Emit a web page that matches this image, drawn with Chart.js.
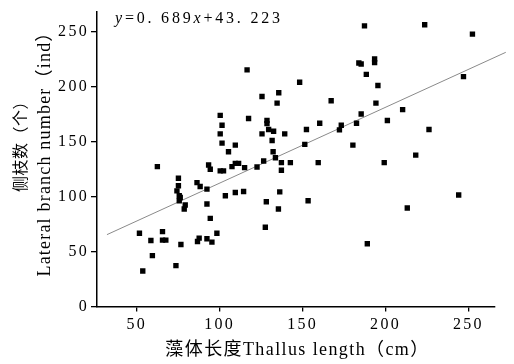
<!DOCTYPE html>
<html><head><meta charset="utf-8">
<script src="https://cdn.jsdelivr.net/npm/chart.js@4/dist/chart.umd.min.js"></script>
<style>html,body{margin:0;padding:0;background:#fff;overflow:hidden}canvas{display:block}</style>
</head><body>
<canvas id="c" width="514" height="364" style="width:514px;height:364px"></canvas>
<script>
// Thallus length (cm) of each sampled plant
const thallusLength = [51.6,53.6,58.5,59.4,65.5,65.5,67.5,73.6,76.6,75.1,75.1,74.2,75.6,76.2,75.6,79.2,78.6,86.3,88.2,92.3,92.3,94.3,86.6,87.6,92.3,95.3,98.3,103.4,109.4,114.4,116.5,117.4,100.3,101.4,100.3,101.4,109.4,105.3,62.4,93.3,94.3,100.3,102.3,107.4,109.4,111.4,115.0,122.5,125.5,125.5,187.3,223.6,252.4,183.9,185.3,193.4,193.4,188.4,195.4,148.2,135.6,134.6,167.2,194.2,210.3,185.3,247.0,128.5,128.5,129.5,132.5,139.2,131.6,152.3,160.3,173.3,172.2,182.5,201.1,226.2,151.3,180.3,132.2,133.6,126.5,137.2,137.2,142.6,159.4,199.2,218.2,136.2,128.1,135.4,127.5,153.3,189.0,213.1,244.1];
// Lateral branch number (ind) of each sampled plant
const branchNumber = [66.6,32.3,60.0,46.2,68.1,60.3,60.3,37.2,56.4,116.6,109.7,105.1,100.6,99.1,96.1,92.2,88.6,112.6,109.0,106.7,93.1,80.1,59.1,62.1,61.6,58.5,66.6,100.6,103.6,104.5,215.0,170.8,173.7,164.7,156.9,148.5,146.7,140.6,127.1,128.6,124.7,123.2,123.2,127.1,130.1,130.1,126.2,126.8,190.9,156.9,255.0,256.1,247.5,221.3,220.4,224.9,221.6,211.0,200.8,203.8,194.2,184.8,187.0,184.8,178.9,174.9,208.9,169.2,166.2,160.8,159.3,156.9,150.9,160.8,166.5,164.7,160.5,166.5,169.0,160.8,147.3,146.7,140.6,135.2,132.2,130.7,123.8,130.7,130.7,130.7,137.6,104.2,95.2,88.6,72.0,96.1,57.0,89.5,101.3];
// Regression line end points as drawn
const fitLineX = [32, 272.5];
const fitLineY = [65.3, 231.0];
const xTicks = [50, 100, 150, 200, 250];
const yTicks = [0, 50, 100, 150, 200, 250];
const xTitle = '藻体长度Thallus length（cm）';
const yTitleCn = '侧枝数（个）';
const yTitleEn = 'Lateral branch number（ind）';
const equationParts = [['y', true], ['=0. 689', false], ['x', true], ['+43. 223', false]];

const FONT = '"Liberation Serif", "Noto Sans CJK SC"';

const textPlugin = {
  id: 'texts',
  beforeDraw(chart) { chart.ctx.letterSpacing = '2.3px'; },
  afterDraw(chart) {
    const ctx = chart.ctx, a = chart.chartArea;
    ctx.save();
    ctx.fillStyle = '#000';
    ctx.textBaseline = 'alphabetic';
    // x title
    ctx.font = '18px ' + FONT;
    ctx.letterSpacing = '1.4px';
    ctx.textAlign = 'center';
    ctx.fillText(xTitle, (a.left + a.right) / 2 + 1.5, 355);
    // y title (English line)
    ctx.save();
    ctx.translate(50, 149.5);
    ctx.rotate(-Math.PI / 2);
    ctx.font = '18px ' + FONT;
    ctx.letterSpacing = '1.2px';
    ctx.fillText(yTitleEn, 0, 0);
    ctx.restore();
    // y title (Chinese line)
    ctx.save();
    ctx.translate(26, 142.5);
    ctx.rotate(-Math.PI / 2);
    ctx.font = '16px "Noto Sans CJK SC"';
    ctx.letterSpacing = '0.5px';
    ctx.fillText(yTitleCn, 0, 0);
    ctx.restore();
    // equation
    ctx.textAlign = 'left';
    ctx.letterSpacing = '2.8px';
    let x = 115;
    for (const [t, it] of equationParts) {
      ctx.font = (it ? 'italic ' : '') + '16px ' + FONT;
      ctx.fillText(t, x, 23);
      x += ctx.measureText(t).width;
    }
    ctx.restore();
  }
};

new Chart(document.getElementById('c'), {
  type: 'scatter',
  data: {
    datasets: [
      {
        data: thallusLength.map((v, i) => ({ x: v, y: branchNumber[i] })),
        pointStyle: 'rect', pointRadius: 3.8, pointBorderWidth: 0,
        backgroundColor: '#000', borderColor: '#000', order: 0
      },
      {
        type: 'line',
        data: fitLineX.map((v, i) => ({ x: v, y: fitLineY[i] })),
        borderColor: '#8a8a8a', borderWidth: 1, pointRadius: 0,
        fill: false, clip: false, order: 1
      }
    ]
  },
  options: {
    responsive: false, animation: false, devicePixelRatio: 1,
    layout: { padding: { left: 0, right: 19, top: 9, bottom: 0 } },
    plugins: { legend: { display: false }, tooltip: { enabled: false } },
    scales: {
      x: {
        type: 'linear', min: 26, max: 266,
        afterBuildTicks: s => { s.ticks = xTicks.map(v => ({ value: v })); },
        afterFit: s => { s.height = 57.5; },
        grid: { drawOnChartArea: false, drawTicks: true, tickLength: 5, color: '#000', lineWidth: 1.3 },
        border: { display: true, color: '#000', width: 1.5 },
        ticks: { color: '#000', font: { family: FONT, size: 16 }, padding: 4, maxRotation: 0 }
      },
      y: {
        type: 'linear', min: 0, max: 268,
        afterBuildTicks: s => { s.ticks = yTicks.map(v => ({ value: v })); },
        afterFit: s => { s.width = 97; },
        grid: { drawOnChartArea: false, drawTicks: true, tickLength: 6, color: '#000', lineWidth: 1.3 },
        border: { display: true, color: '#000', width: 1.5 },
        ticks: { color: '#000', font: { family: FONT, size: 16 }, padding: 2 }
      }
    }
  },
  plugins: [textPlugin]
});
</script>
</body></html>
